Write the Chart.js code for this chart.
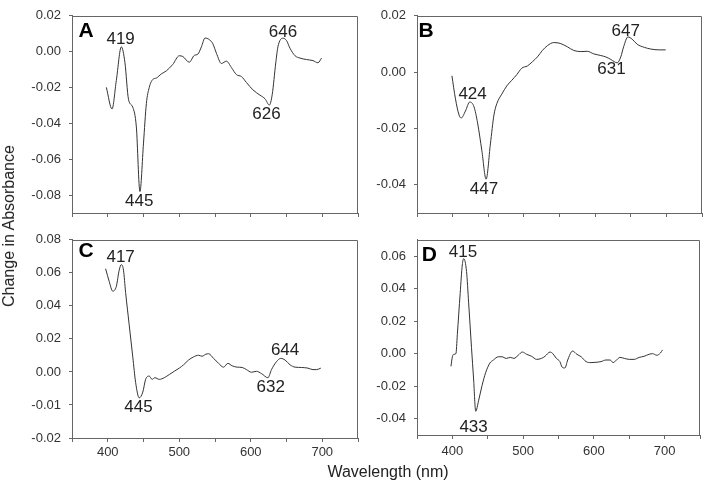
<!DOCTYPE html>
<html><head><meta charset="utf-8">
<script src="https://cdn.jsdelivr.net/npm/chart.js@4"></script>
<style>
html,body{margin:0;padding:0;background:#fff;}
#wrap{position:relative;width:705px;height:487px;overflow:hidden;font-family:"Liberation Sans",Arial,sans-serif;background:#fff;}
canvas{position:absolute;}
.ttl{position:absolute;font-size:16px;color:#222;white-space:nowrap;transform-origin:center center;}
</style></head><body>
<div id="wrap">
<canvas id="cA" width="365" height="230" style="left:0px;top:0px;width:365px;height:230px"></canvas>
<canvas id="cB" width="360" height="230" style="left:345px;top:0px;width:360px;height:230px"></canvas>
<canvas id="cC" width="365" height="240" style="left:0px;top:224px;width:365px;height:240px"></canvas>
<canvas id="cD" width="360" height="240" style="left:345px;top:224px;width:360px;height:240px"></canvas>
<div class="ttl" style="left:8.5px;top:226px;transform:translate(-50%,-50%) rotate(-90deg);">Change in Absorbance</div>
<div class="ttl" style="left:388px;top:472px;transform:translate(-50%,-50%);">Wavelength (nm)</div>
</div>
<script>
// ---------- data ----------
const xTickLabels = [400, 500, 600, 700];

const aWl  = [398,406,412,419,424,429,435,440,445,450,454,458,463,468,475,482,491,500,505,514,521,526,531,536,542,547,552,559,566,573,580,587,594,603,613,620,626,630,635,638,645,650,655,662,669,678,687,694,699];
const aAbs = [-0.0199,-0.032,-0.016,0.0027,-0.006,-0.0266,-0.031,-0.042,-0.078,-0.051,-0.029,-0.020,-0.0155,-0.0147,-0.0124,-0.0107,-0.0071,-0.0023,-0.0027,-0.0059,-0.0021,-0.0014,0.0027,0.0076,0.0067,0.0044,-0.0009,-0.0066,-0.0053,-0.0089,-0.0128,-0.0139,-0.0172,-0.0213,-0.0243,-0.0263,-0.0298,-0.024,-0.0062,0.0027,0.0075,0.0062,0.0018,-0.0023,-0.0036,-0.0044,-0.005,-0.0062,-0.0036];

const bWl  = [399,404,409,412,418,424,430,435,441,447,453,458,462,469,476,483,490,497,505,512,519,526,533,542,551,561,570,580,589,598,608,615,622,627,631,636,640,646,652,659,669,678,690,699];
const bAbs = [-0.0013,-0.0095,-0.0152,-0.0163,-0.0138,-0.0106,-0.0123,-0.018,-0.0278,-0.038,-0.0255,-0.0152,-0.0112,-0.0078,-0.0049,-0.0029,-0.0009,0.0014,0.0022,0.0037,0.0054,0.0077,0.0094,0.0105,0.0102,0.009,0.0077,0.0073,0.0074,0.0065,0.0059,0.0054,0.0045,0.0037,0.0033,0.0054,0.009,0.0125,0.0117,0.0099,0.0088,0.0082,0.0079,0.0079];

const cWl  = [397,402,407,412,416,419,422,425,430,435,439,444,449,453,458,462,466,472,479,486,493,500,506,513,520,527,532,537,541,548,555,562,568,574,581,588,594,601,608,615,624,629,636,642,648,655,662,671,680,687,692,698];
const cAbs = [0.0625,0.0548,0.0489,0.0518,0.0616,0.065,0.0616,0.048,0.0285,0.0091,-0.0064,-0.0157,-0.0122,-0.0045,-0.0025,-0.0045,-0.0035,-0.0045,-0.0035,-0.0016,0.0004,0.0023,0.0043,0.0072,0.0091,0.0101,0.0095,0.0107,0.011,0.0082,0.0052,0.0029,0.0052,0.0037,0.0029,0.0027,0.0014,-0.0002,0.0004,-0.001,-0.0035,0.0014,0.0062,0.0082,0.0072,0.0043,0.0029,0.0027,0.0023,0.0014,0.0014,0.0023];

const dWl  = [398,400,402,405,407,411,414,416,420,423,427,430,433,437,442,447,453,458,465,470,476,482,487,493,499,505,512,519,526,531,538,542,547,552,555,559,563,568,570,576,582,589,596,603,610,617,623,627,632,637,643,650,657,664,671,678,683,689,694,697];
const dAbs = [-0.0078,-0.0019,-0.0004,0.0,0.0117,0.037,0.0545,0.0584,0.0506,0.0312,0.0039,-0.0156,-0.0354,-0.029,-0.0195,-0.0117,-0.0058,-0.0039,-0.0019,-0.0019,-0.0029,-0.0023,-0.0029,-0.001,0.001,-0.0004,-0.0016,-0.0035,-0.0029,-0.0016,0.001,0.0,-0.0029,-0.0049,-0.0082,-0.0088,-0.0039,0.001,0.0016,-0.0004,-0.0019,-0.0049,-0.0055,-0.0053,-0.0049,-0.0039,-0.0039,-0.0055,-0.0039,-0.0023,-0.0029,-0.0035,-0.0035,-0.0023,-0.0016,-0.0004,0.0,-0.001,0.0004,0.0023];

// y tick values and their printed labels
const aYTicks = [0.02,0.00,-0.02,-0.04,-0.06,-0.08];
const aYLabels = ['0.02','0.00','-0.02','-0.04','-0.06','-0.08'];
const bYTicks = [0.02,0.00,-0.02,-0.04];
const bYLabels = ['0.02','0.00','-0.02','-0.04'];
const cYTicks = [0.08,0.06,0.04,0.02,0.00,-0.02,-0.04];
const cYLabels = ['0.08','0.06','0.04','0.02','0.00','-0.01','-0.02'];
const dYTicks = [0.06,0.04,0.02,0.00,-0.02,-0.04];
const dYLabels = ['0.06','0.04','0.02','0.00','-0.02','-0.04'];

// peak annotations: text, wavelength, value
const aNotes = [['419',418,0.0067],['445',444,-0.0837],['646',645,0.0106],['626',622,-0.0351]];
const bNotes = [['424',428,-0.008],['447',444,-0.0415],['647',643,0.0145],['631',623,0.0009]];
const cNotes = [['417',418,0.0693],['445',443,-0.0216],['644',648,0.0129],['632',628,-0.0094]];
const dNotes = [['415',415,0.0626],['433',430,-0.045]];
// panel letters: letter, wavelength, value
const aLetter = ['A',369.6,0.0116];
const bLetter = ['B',362.6,0.0147];
const cLetter = ['C',369.6,0.0732];
const dLetter = ['D',367.3,0.0603];

// ---------- drawing ----------
const FAM = '"Liberation Sans", Arial, sans-serif';
const AXC = '#666';

function makePanel(id, wl, vals, yMin, yMax, yT, yL, showX, pad, xH, xPad, notes, letter){
  const framePlugin = {
    id:'frame',
    afterDraw(chart){
      const a = chart.chartArea, ctx = chart.ctx;
      ctx.save();
      ctx.strokeStyle = AXC; ctx.lineWidth = 1;
      const l = Math.round(a.left)+0.5, r = Math.round(a.right)-0.5, t = Math.round(a.top)+0.5, b = Math.round(a.bottom);
      ctx.beginPath();
      ctx.moveTo(l, t); ctx.lineTo(r, t); ctx.lineTo(r, b);
      ctx.stroke();
      ctx.restore();
    }
  };
  const notePlugin = {
    id:'notes',
    afterDraw(chart){
      const ctx = chart.ctx, xs = chart.scales.x, ys = chart.scales.y;
      ctx.save();
      ctx.textAlign = 'center'; ctx.textBaseline = 'middle';
      ctx.fillStyle = '#222';
      ctx.font = '17px ' + FAM;
      notes.forEach(n => ctx.fillText(n[0], xs.getPixelForValue(n[1]), ys.getPixelForValue(n[2])));
      ctx.fillStyle = '#000';
      ctx.font = 'bold 21px ' + FAM;
      ctx.fillText(letter[0], xs.getPixelForValue(letter[1]), ys.getPixelForValue(letter[2]));
      ctx.restore();
    }
  };
  return new Chart(document.getElementById(id), {
    type:'line',
    data:{datasets:[{
      data: wl.map((w,i)=>({x:w, y:vals[i]})),
      borderColor:'#333', borderWidth:1, pointRadius:0, fill:false,
      cubicInterpolationMode:'monotone'
    }]},
    options:{
      responsive:false, animation:false, devicePixelRatio:1,
      layout:{padding:pad},
      plugins:{legend:{display:false}, tooltip:{enabled:false}},
      scales:{
        x:{type:'linear', min:350, max:750,
          ticks:{stepSize:50, autoSkip:false, maxRotation:0, padding:xPad, color:'#333',
                 font:{size:13, family:FAM},
                 callback:(v)=> (showX && xTickLabels.includes(v)) ? String(v) : ''},
          grid:{drawOnChartArea:false, drawTicks:true, tickLength:4, color:AXC},
          border:{display:true, color:AXC, width:1},
          afterFit:(s)=>{ s.height = xH; }
        },
        y:{type:'linear', min:yMin, max:yMax,
          afterBuildTicks:(s)=>{ s.ticks = yT.map(v=>({value:v})); },
          ticks:{padding:8, color:'#333', font:{size:13, family:FAM},
                 callback:(v,i)=> yL[i]},
          grid:{drawOnChartArea:false, drawTicks:true, tickLength:3, color:AXC},
          border:{display:true, color:AXC, width:1},
          afterFit:(s)=>{ s.width = 72; }
        }
      }
    },
    plugins:[framePlugin, notePlugin]
  });
}

makePanel('cA', aWl, aAbs, -0.09, 0.02, aYTicks, aYLabels, false, {top:7,right:7,left:0,bottom:0}, 17, 3, aNotes, aLetter);
makePanel('cB', bWl, bAbs, -0.05, 0.02, bYTicks, bYLabels, false, {top:7,right:3,left:0,bottom:0}, 17, 3, bNotes, bLetter);
makePanel('cC', cWl, cAbs, -0.04, 0.08, cYTicks, cYLabels, true, {top:8,right:7,left:0,bottom:0}, 26, 3, cNotes, cLetter);
makePanel('cD', dWl, dAbs, -0.05, 0.07, dYTicks, dYLabels, true, {top:6,right:3,left:0,bottom:0}, 29, 5, dNotes, dLetter);
</script>
</body></html>
